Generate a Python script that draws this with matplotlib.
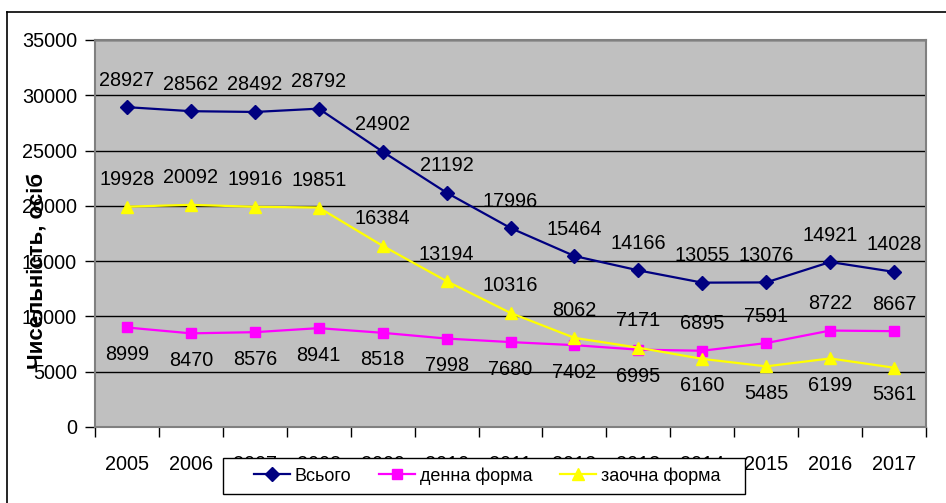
import matplotlib
matplotlib.use("Agg")
import matplotlib.pyplot as plt
from matplotlib.patches import Rectangle
from matplotlib.lines import Line2D

plt.rcParams['font.family'] = ['Liberation Sans', 'DejaVu Sans']

years = ['2005', '2006', '2007', '2008', '2009', '2010', '2011', '2012', '2013', '2014', '2015', '2016', '2017']
total = [28927, 28562, 28492, 28792, 24902, 21192, 17996, 15464, 14166, 13055, 13076, 14921, 14028]
daily = [8999, 8470, 8576, 8941, 8518, 7998, 7680, 7402, 6995, 6895, 7591, 8722, 8667]
extramural = [19928, 20092, 19916, 19851, 16384, 13194, 10316, 8062, 7171, 6160, 5485, 6199, 5361]
series_names = ['Всього', 'денна форма', 'заочна форма']
y_label = 'Чисельність, осіб'

# label placement: +1 above, -1 below
total_pos = [1] * 13
daily_pos = [-1] * 9 + [1] * 4
extramural_pos = [1] * 9 + [-1] * 4

W, H = 946, 503
fig = plt.figure(figsize=(W / 100, H / 100), dpi=100)
ax = fig.add_axes([95 / W, (H - 427) / H, 831 / W, 387 / H])
ax.set_facecolor('#C0C0C0')

x = list(range(len(years)))
ax.plot(x, total, color='#000080', marker='D', markersize=7, linewidth=1.6, label=series_names[0], zorder=3)
ax.plot(x, daily, color='#FF00FF', marker='s', markersize=7.5, linewidth=1.6, label=series_names[1], zorder=3)
ax.plot(x, extramural, color='#FFFF00', marker='^', markersize=8, linewidth=1.6, label=series_names[2], zorder=3)

fs = 14.3
for vals, pos in ((total, total_pos), (daily, daily_pos), (extramural, extramural_pos)):
    for xi, v, p in zip(x, vals, pos):
        ax.annotate(str(v), (xi, v), xytext=(0, 27 * p), textcoords='offset pixels',
                    ha='center', va='center', fontsize=fs, color='black', zorder=4)

ax.set_xlim(-0.5, len(years) - 0.5)
ax.set_ylim(0, 35000)
ax.set_yticks(range(0, 35001, 5000))
ax.set_yticklabels([str(v) for v in range(0, 35001, 5000)], fontsize=fs)
ax.set_xticks(x)
ax.set_xticklabels(years, fontsize=fs)
ax.set_xticks([i - 0.5 for i in range(len(years) + 1)], minor=True)
ax.tick_params(axis='x', which='major', length=0, pad=20)
ax.tick_params(axis='x', which='minor', length=7, width=1, direction='out', color='black')
ax.tick_params(axis='y', length=7, width=1, direction='out', color='black', pad=6)
ax.yaxis.grid(True, color='black', linewidth=1)
ax.set_axisbelow(True)
for s in ('left', 'right', 'top', 'bottom'):
    ax.spines[s].set_color('#808080')
    ax.spines[s].set_linewidth(1.5)

fig.text(37 / W, (H - 271) / H, y_label, rotation=90, ha='center', va='center',
         fontsize=16, fontweight='bold')

leg = fig.legend(loc='center', bbox_to_anchor=(487 / W, (H - 476) / H), ncol=3,
                 fontsize=13, frameon=False,
                 handlelength=2.0, handletextpad=0.25, columnspacing=1.55, borderpad=0.3)
# legend box
fig.patches.append(Rectangle((223 / W, (H - 494) / H), 522 / W, 36 / H, transform=fig.transFigure,
                             facecolor='white', edgecolor='black', linewidth=1, zorder=2))
leg.set_zorder(5)

# outer chart border (left and top visible)
fig.add_artist(Line2D([7 / W, 7 / W], [-0.01, (H - 12) / H], color='black', linewidth=1.2,
                      transform=fig.transFigure))
fig.add_artist(Line2D([7 / W, 1.01], [(H - 12) / H, (H - 12) / H], color='black', linewidth=1.2,
                      transform=fig.transFigure))

fig.savefig('out.png', dpi=100)
